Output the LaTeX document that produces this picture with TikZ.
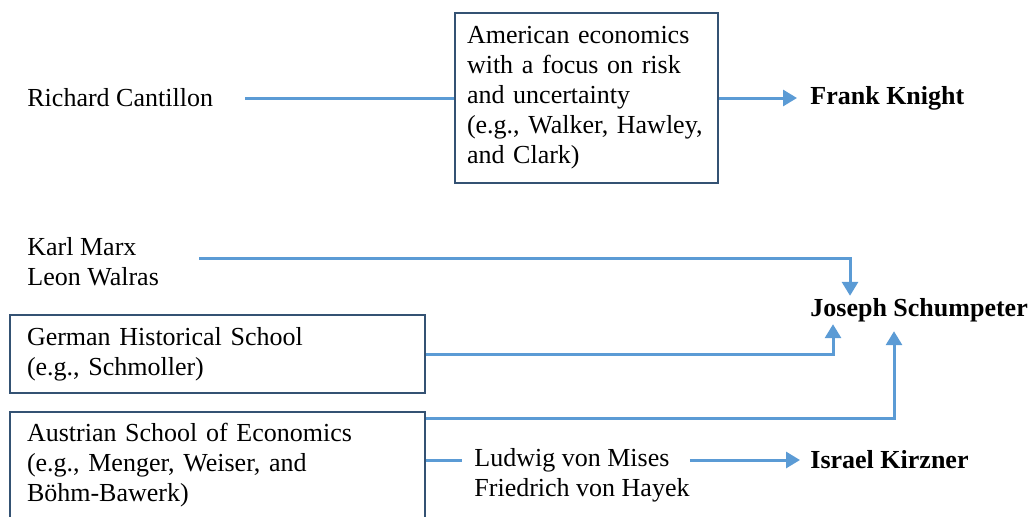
\documentclass[tikz,border=0pt]{standalone}
\usepackage{fontspec}
\setmainfont{Liberation Serif}
\usetikzlibrary{arrows.meta,positioning}
\definecolor{linkblue}{RGB}{91,155,213}
\definecolor{boxblue}{RGB}{52,82,115}

\begin{document}
\begin{tikzpicture}[
  person/.style={anchor=west, inner xsep=0pt, inner ysep=1pt},
  school/.style={draw=boxblue, line width=1.2pt, align=left, inner xsep=8.5pt},
  link/.style={draw=linkblue, line width=1.5pt},
  arrow/.style={link, -{Triangle[width=8pt,length=7pt]}}]

  \fontsize{13pt}{15pt}\selectfont
  \useasboundingbox (0pt,0pt) rectangle (515.5pt,-258pt);

  %% risk and uncertainty
  \node[person] (cantillon) at (13.5pt,-49pt) {Richard Cantillon};
  \node[school, text width=119.5pt, inner xsep=6pt, minimum height=85pt]
  (american) at (293.25pt,-49pt)
  {American economics\\with a focus on risk\\and uncertainty\\(e.g., Walker, Hawley,\\and Clark)};
  \node[person, font=\bfseries] (knight) at (405pt,-49pt) {Frank Knight};

  %% innovation
  \node[person, align=left] (marx) at (13.5pt,-131pt) {Karl Marx\\Leon Walras};
  \node[person, font=\bfseries] (joseph) at (405pt,-155pt) {Joseph Schumpeter};
  \node[school, text width=190.5pt, minimum height=39pt]
  (german) at (108.75pt,-177pt) {German Historical School\\(e.g., Schmoller)};

  %% alertness
  \node[school, text width=190.5pt, anchor=north, inner ysep=5.5pt]
  (austrian) at (108.75pt,-205.5pt)
  {Austrian School of Economics\\(e.g., Menger, Weiser, and\\Böhm-Bawerk)\\ \strut};
  \node[person] (mises) at (237pt,-230pt) {Ludwig von Mises};
  \node[person] (hayek) at (237pt,-245pt) {Friedrich von Hayek};
  \node[person, font=\bfseries] (kirzner) at (405pt,-230pt) {Israel Kirzner};

  %% connectors
  \draw[link] ([xshift=16pt]cantillon.east) -- (american.west);
  \draw[arrow, shorten >=6.5pt] (american.east) -- (knight.west);
  \draw[arrow] ([shift={(20pt,2pt)}]marx.east) -| ([xshift=20pt]joseph.north west);
  \draw[arrow] (german.east) -| ([xshift=11.5pt]joseph.south west);
  \draw[arrow, shorten >=3.5pt] ([yshift=-3.5pt]austrian.north east)
  -| ([xshift=42pt]joseph.south west);
  \draw[link, shorten >=6pt] (austrian.east |- mises.west) -- (mises.west);
  \draw[arrow, shorten <=10pt, shorten >=5pt] (mises.east) -- (kirzner.west);

\end{tikzpicture}
\end{document}
